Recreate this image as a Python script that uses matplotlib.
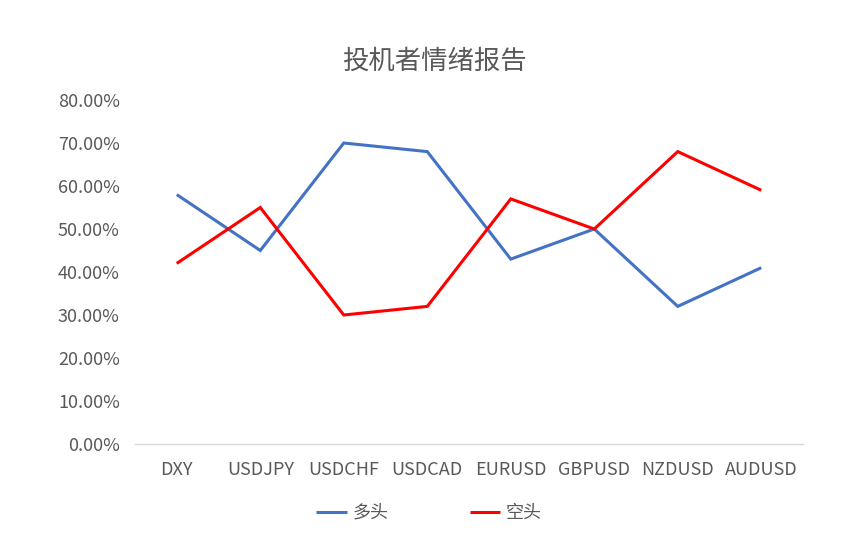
import matplotlib
matplotlib.use("Agg")
import matplotlib.pyplot as plt
import numpy as np
from matplotlib.ticker import FuncFormatter

plt.rcParams["font.family"] = ["Noto Sans CJK SC", "DejaVu Sans"]

categories = ["DXY", "USDJPY", "USDCHF", "USDCAD", "EURUSD", "GBPUSD", "NZDUSD", "AUDUSD"]
long_pct = [0.58, 0.45, 0.70, 0.68, 0.43, 0.50, 0.32, 0.41]
short_pct = [0.42, 0.55, 0.30, 0.32, 0.57, 0.50, 0.68, 0.59]
series_names = ["多头", "空头"]
title = "投机者情绪报告"

TEXT = "#595959"
BLUE = "#4472C4"
RED = "#FF0000"

fig = plt.figure(figsize=(8.53, 5.4), dpi=100)
ax = fig.add_axes([0.1583, 0.1778, 0.7831, 0.637])

x = np.arange(len(categories))
ax.plot(x, long_pct, color=BLUE, linewidth=2.2, label=series_names[0],
        solid_joinstyle="miter", solid_capstyle="butt")
ax.plot(x, short_pct, color=RED, linewidth=2.2, label=series_names[1],
        solid_joinstyle="miter", solid_capstyle="butt")

ax.set_xlim(-0.5, len(categories) - 0.5)
ax.set_ylim(0, 0.8)
ax.set_yticks(np.arange(0, 0.81, 0.1))
ax.yaxis.set_major_formatter(FuncFormatter(lambda v, _: f"{v * 100:.2f}%"))
ax.set_xticks(x)
ax.set_xticklabels(categories)
ax.tick_params(axis="both", length=0, labelsize=13, colors=TEXT)
ax.tick_params(axis="x", pad=12)
ax.tick_params(axis="y", pad=11)

for side in ["top", "right", "left"]:
    ax.spines[side].set_visible(False)
ax.spines["bottom"].set_color("#D9D9D9")
ax.spines["bottom"].set_linewidth(1.0)

fig.text(0.509, 0.886, title, ha="center", va="center", fontsize=19, color=TEXT)

handles, labels = ax.get_legend_handles_labels()
fig.legend(handles, labels, loc="center", bbox_to_anchor=(0.503, 0.05),
           ncol=2, frameon=False, fontsize=13, labelcolor=TEXT,
           handlelength=1.7, handletextpad=0.3, columnspacing=4.5)

fig.savefig("out.png", dpi=100, facecolor="white")
